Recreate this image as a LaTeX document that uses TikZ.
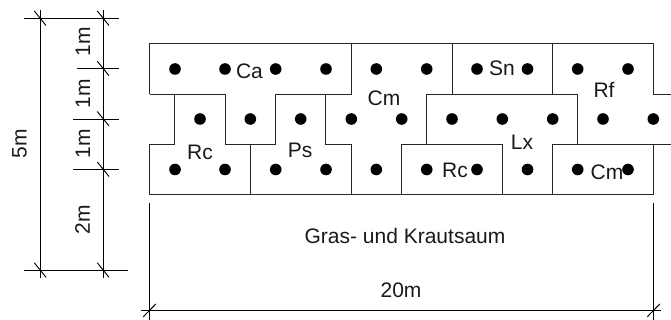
\documentclass[tikz,border=0pt]{standalone}
\usepackage{fontspec}
\setmainfont{Liberation Sans}
\tikzset{
  plan/.style={line width=0.95pt,draw=black!85,line join=miter},
  dim/.style={line width=0.95pt,draw=black},
  tick/.style={line width=0.95pt,draw=black},
  plant/.style={circle,fill=black,draw=none,inner sep=0pt,minimum size=11.6pt},
  lab/.style={inner sep=0pt,font=\fontsize{21}{23}\selectfont,text=black!90}
}
\begin{document}
\begin{tikzpicture}[x=1pt,y=-1pt]
\useasboundingbox (0,0) rectangle (671,320);
% plan outlines
\draw[plan] (149.7,94) -- (149.7,43.7) -- (653.3,43.7) -- (653.3,94) -- (671,94);
\draw[plan] (149.7,94) -- (225,94) -- (225,144.3) -- (275.7,144.3) -- (275.7,94) -- (351.3,94) -- (351.3,43.7);
\draw[plan] (174.7,94) -- (174.7,144.3) -- (149.7,144.3) -- (149.7,194.7) -- (653.3,194.7) -- (653.3,144.3) -- (671,144.3);
\draw[plan] (250.3,144.3) -- (250.3,194.7);
\draw[plan] (325.7,94) -- (325.7,144.3) -- (351.3,144.3) -- (351.3,194.7);
\draw[plan] (452,43.7) -- (452,94);
\draw[plan] (552.7,43.7) -- (552.7,94);
\draw[plan] (426.7,144.3) -- (426.7,94) -- (577.7,94) -- (577.7,144.3);
\draw[plan] (401.7,194.7) -- (401.7,144.3) -- (502.3,144.3) -- (502.3,194.7);
\draw[plan] (552.7,194.7) -- (552.7,144.3) -- (653.3,144.3);
% plants
\foreach \px in {175,225,275.7,326,376.3,426.7,477,527.5,577.7,628} {
  \node[plant] at (\px,69) {};
  \node[plant] at (\px,169.5) {};
}
\foreach \px in {200,250.3,300.7,351.3,401.7,452,502.3,552.7,603,653.3} {
  \node[plant] at (\px,119) {};
}
% labels
\node[lab] (ca) at (249.5,71) {Ca};
\node[lab] (rca) at (200,152) {Rc};
\node[lab] (ps) at (300,150) {Ps};
\node[lab] (cma) at (384,98) {Cm};
\node[lab] (sn) at (502,68) {Sn};
\node[lab] (rf) at (604,90) {Rf};
\node[lab] (lx) at (522,142) {Lx};
\node[lab] (rcb) at (455,170) {Rc};
\node[lab] (cmb) at (607,172) {Cm};
\node[lab] (saum) at (405,236) {Gras- und Krautsaum};
\node[lab] (w) at (401,290) {20m};
\node[lab,rotate=90] (h) at (19.5,144) {5m};
\node[lab,rotate=90] (a) at (83,42) {1m};
\node[lab,rotate=90] (b) at (83,93.5) {1m};
\node[lab,rotate=90] (c) at (83,143.5) {1m};
\node[lab,rotate=90] (d) at (82.5,219.5) {2m};
% dimension lines, left
\draw[dim] (40,10) -- (40,278);
\draw[dim] (103,10) -- (103,278);
\draw[dim] (24,18.5) -- (119,18.5);
\draw[dim] (77,68.7) -- (119,68.7);
\draw[dim] (73,119) -- (119,119);
\draw[dim] (73,169.5) -- (119,169.5);
\draw[dim] (24,270.3) -- (128,270.3);
\foreach \py in {18.5,270.3} {
  \draw[tick] (34.3,\py-7.5) -- (46,\py+7);
}
\foreach \py in {18.5,68.7,119,169.5,270.3} {
  \draw[tick] (97.3,\py-7.5) -- (109,\py+7);
}
% dimension lines, bottom
\draw[dim] (149.7,203) -- (149.7,320);
\draw[dim] (653.5,203) -- (653.5,320);
\draw[dim] (141,310.3) -- (661,310.3);
\draw[tick] (143.3,316.8) -- (155.8,304);
\draw[tick] (647.3,316.8) -- (659.8,304);
\end{tikzpicture}
\end{document}
